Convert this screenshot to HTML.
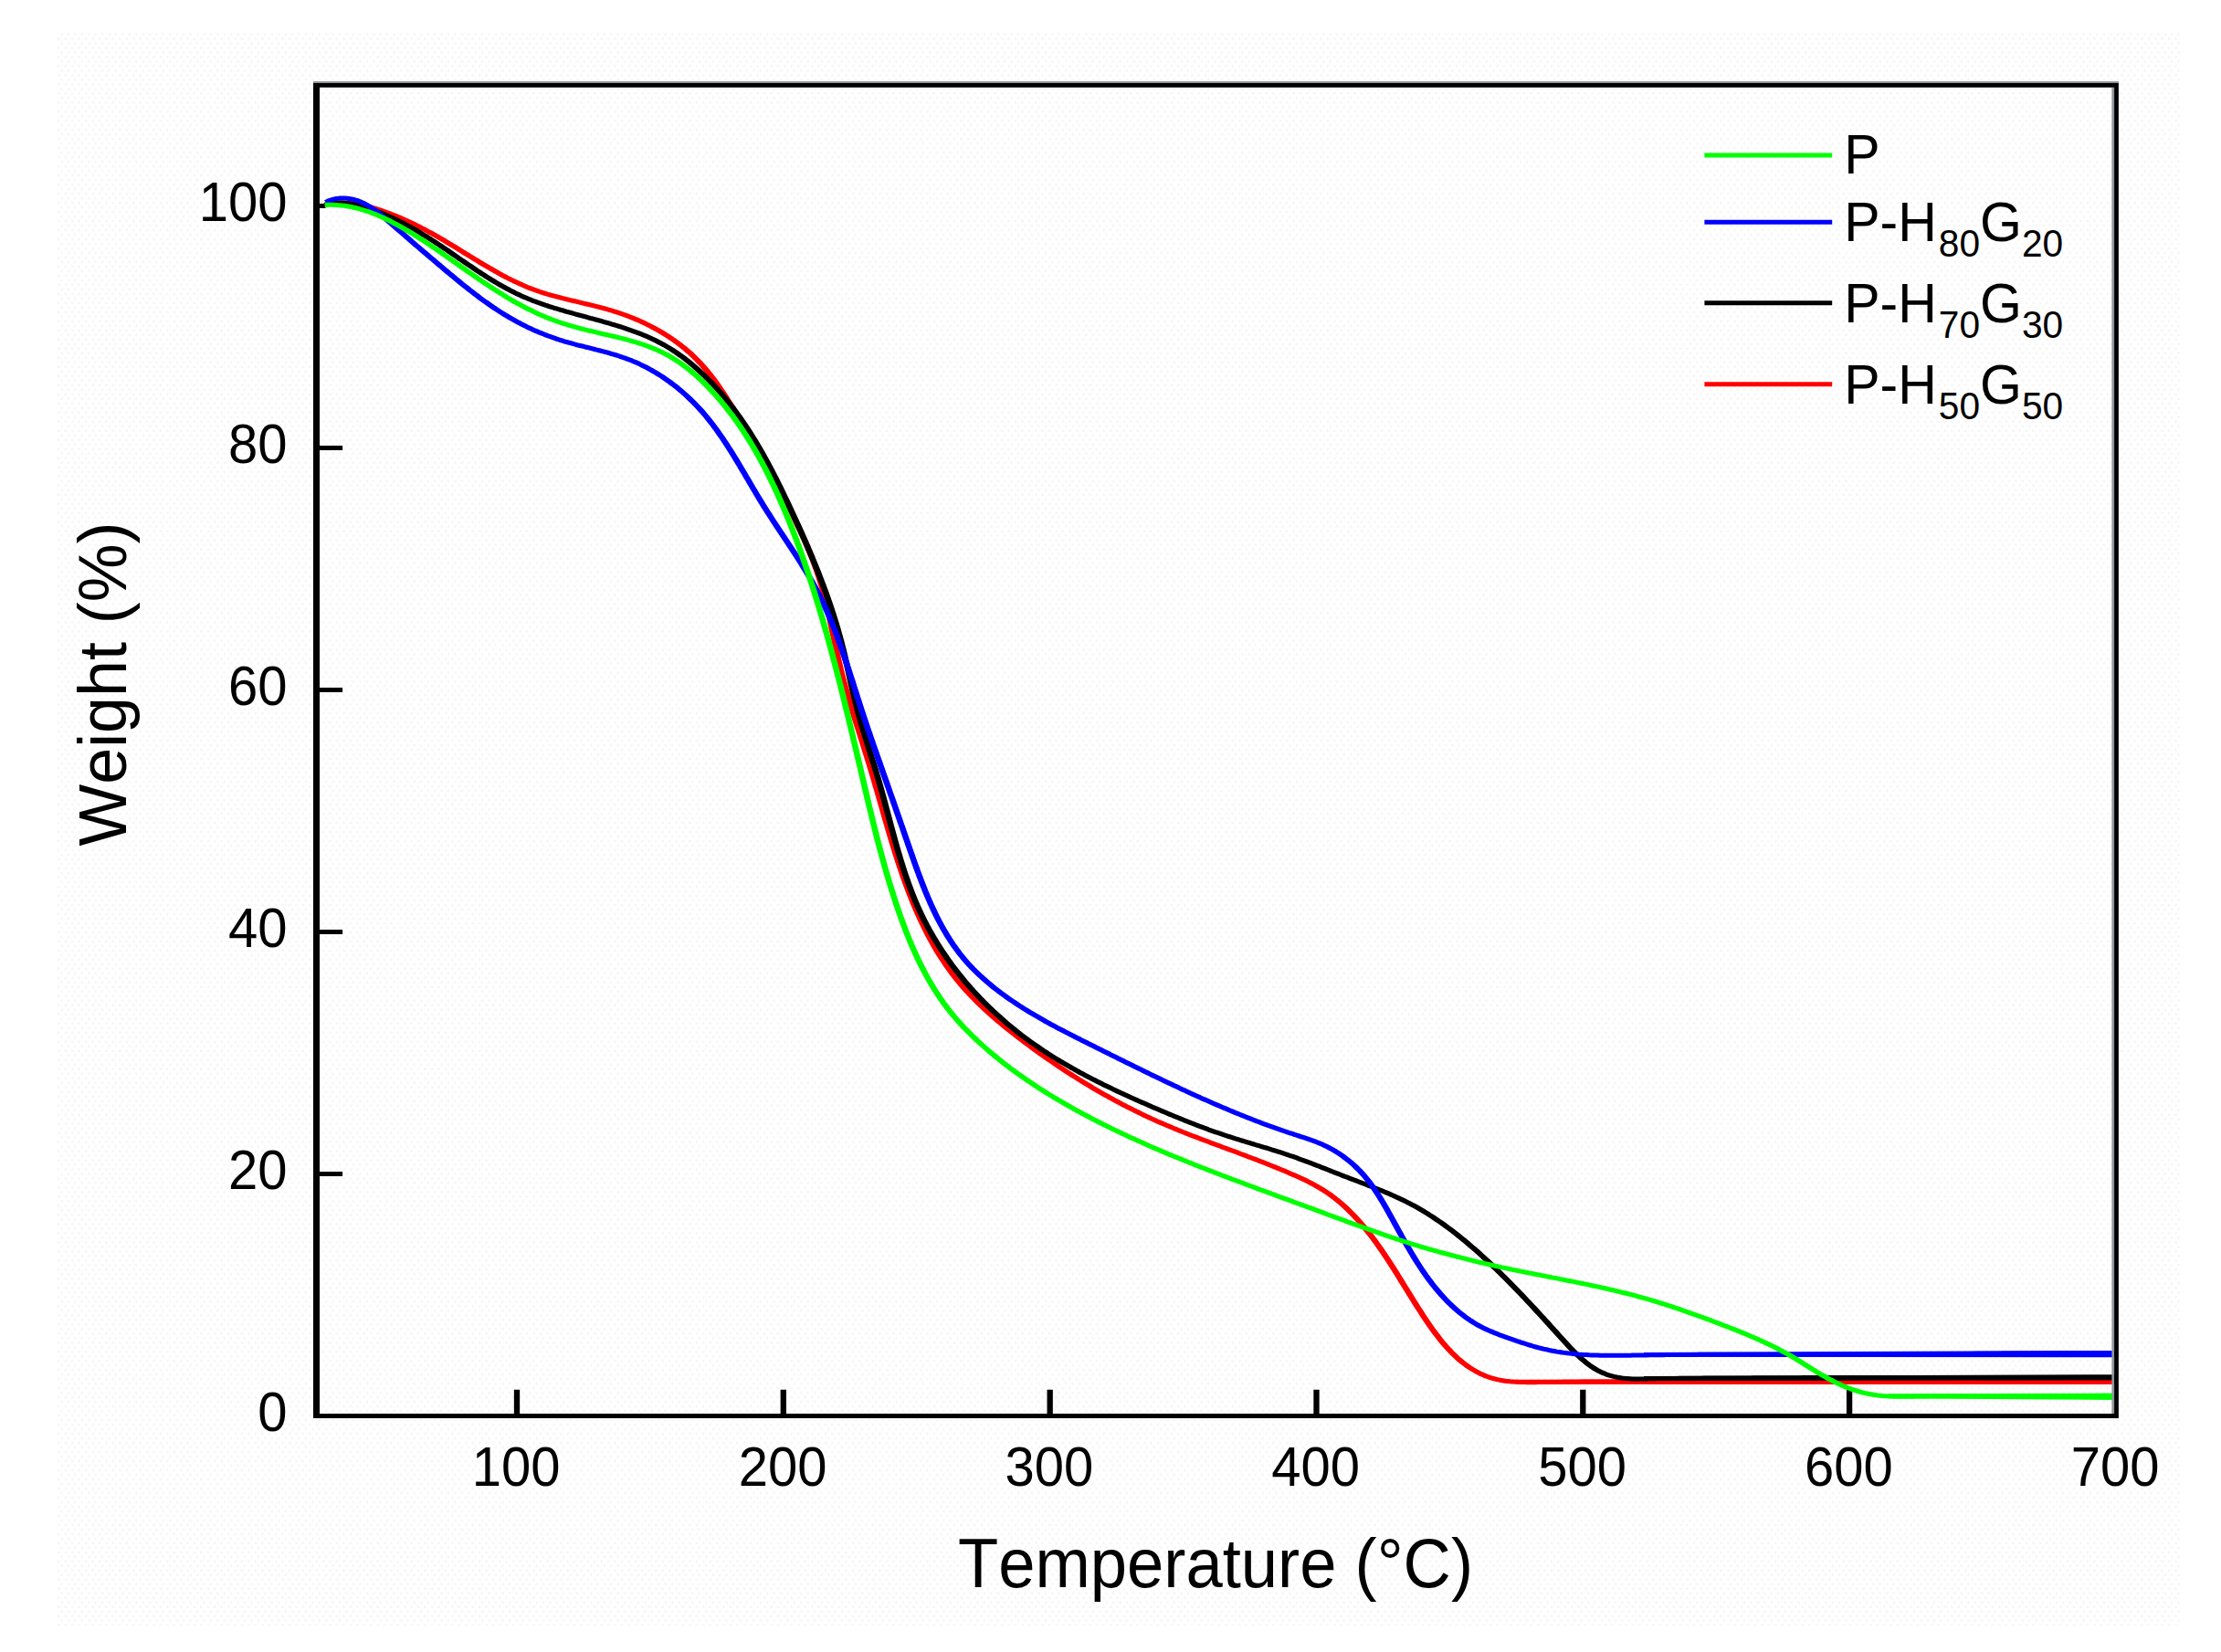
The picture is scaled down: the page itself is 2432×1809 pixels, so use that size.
<!DOCTYPE html>
<html><head><meta charset="utf-8"><title>TGA curves</title>
<style>
html,body{margin:0;padding:0;background:#fff;}
body{width:2432px;height:1809px;overflow:hidden;}
svg{display:block;}
text{font-family:"Liberation Sans",Arial,sans-serif;fill:#000;font-kerning:none;font-feature-settings:"kern" 0,"liga" 0;}
</style></head><body>
<svg width="2432" height="1809" viewBox="0 0 2432 1809">
<rect x="0" y="0" width="2432" height="1809" fill="#ffffff"/>
<defs><pattern id="dots" x="63" y="35.6" width="7.43" height="9.985" patternUnits="userSpaceOnUse"><rect width="7.43" height="9.985" fill="#ffffff"/><rect x="3.3" y="0.4" width="2.4" height="2.8" fill="#f6f6f6"/><rect x="0.1" y="5.5" width="2.6" height="2.5" fill="#f6f6f6"/></pattern></defs>
<rect x="63" y="35.6" width="2324" height="1744.4" fill="url(#dots)"/>

<path d="M566.0,1550.5 V1521.7 M857.8,1550.5 V1521.7 M1149.7,1550.5 V1521.7 M1441.5,1550.5 V1521.7 M1733.3,1550.5 V1521.7 M2025.1,1550.5 V1521.7" fill="none" stroke="#000" stroke-width="6.3"/>
<path d="M346.5,1285.5 H375.1 M346.5,1020.5 H375.1 M346.5,755.5 H375.1 M346.5,490.5 H375.1 M346.5,225.5 H356.5" fill="none" stroke="#000" stroke-width="5"/>
<g transform="scale(1.33,1)">
<path d="M267.36,224.3 L269.64,223.6 L271.92,223.1 L274.19,222.7 L276.46,222.4 L278.72,222.2 L280.98,222.1 L283.23,222.1 L285.47,222.2 L287.71,222.4 L289.94,222.7 L292.16,223.1 L294.37,223.5 L296.58,224.1 L298.78,224.7 L300.97,225.3 L303.15,226.1 L305.33,226.8 L307.49,227.7 L309.65,228.6 L311.79,229.5 L313.93,230.4 L316.06,231.4 L318.17,232.5 L320.28,233.5 L322.38,234.6 L324.47,235.7 L326.55,236.8 L328.61,238.0 L330.68,239.2 L332.73,240.4 L334.77,241.6 L336.81,242.9 L338.84,244.1 L340.86,245.4 L342.87,246.8 L344.88,248.1 L346.88,249.5 L348.88,250.8 L350.86,252.3 L352.85,253.7 L354.82,255.1 L356.79,256.6 L358.76,258.0 L360.72,259.5 L362.68,261.1 L364.63,262.6 L366.58,264.1 L368.53,265.7 L370.48,267.2 L372.42,268.8 L374.36,270.3 L376.30,271.9 L378.23,273.5 L380.17,275.1 L382.11,276.7 L384.04,278.3 L385.98,279.8 L387.91,281.4 L389.85,283.0 L391.79,284.6 L393.73,286.1 L395.68,287.7 L397.62,289.3 L399.57,290.8 L401.52,292.3 L403.48,293.8 L405.44,295.3 L407.40,296.8 L409.38,298.3 L411.35,299.7 L413.33,301.2 L415.32,302.6 L417.31,304.0 L419.31,305.3 L421.32,306.7 L423.34,308.0 L425.36,309.2 L427.39,310.5 L429.43,311.7 L431.48,312.9 L433.54,314.1 L435.61,315.2 L437.70,316.3 L439.79,317.3 L441.89,318.3 L444.00,319.3 L446.12,320.2 L448.26,321.1 L450.40,322.0 L452.55,322.8 L454.70,323.6 L456.87,324.4 L459.04,325.2 L461.22,325.9 L463.40,326.7 L465.58,327.4 L467.78,328.1 L469.97,328.8 L472.17,329.5 L474.36,330.2 L476.56,330.9 L478.77,331.6 L480.97,332.3 L483.17,333.0 L485.37,333.7 L487.57,334.4 L489.77,335.1 L491.96,335.8 L494.15,336.6 L496.34,337.4 L498.52,338.2 L500.70,339.0 L502.87,339.8 L505.04,340.7 L507.20,341.6 L509.35,342.5 L511.49,343.5 L513.63,344.5 L515.75,345.5 L517.87,346.6 L519.97,347.7 L522.07,348.8 L524.15,350.0 L526.23,351.2 L528.29,352.4 L530.33,353.7 L532.37,355.0 L534.39,356.3 L536.40,357.7 L538.39,359.1 L540.36,360.5 L542.32,362.0 L544.27,363.5 L546.19,365.0 L548.10,366.6 L549.99,368.2 L551.87,369.8 L553.72,371.5 L555.55,373.2 L557.37,375.0 L559.16,376.7 L560.93,378.6 L562.68,380.4 L564.41,382.3 L566.12,384.3 L567.80,386.2 L569.46,388.2 L571.09,390.3 L572.70,392.4 L574.29,394.5 L575.85,396.7 L577.38,398.9 L578.89,401.1 L580.37,403.4 L581.82,405.7 L583.25,408.0 L584.66,410.3 L586.04,412.7 L587.40,415.1 L588.74,417.5 L590.05,420.0 L591.36,422.5 L592.64,424.9 L593.92,427.4 L595.18,429.9 L596.43,432.4 L597.67,434.9 L598.91,437.5 L600.14,440.0 L601.37,442.5 L602.61,445.0 L603.84,447.6 L605.07,450.1 L606.30,452.6 L607.53,455.1 L608.75,457.6 L609.98,460.1 L611.20,462.6 L612.42,465.2 L613.63,467.7 L614.84,470.2 L616.04,472.7 L617.24,475.2 L618.43,477.8 L619.62,480.3 L620.80,482.9 L621.97,485.4 L623.13,488.0 L624.28,490.5 L625.42,493.1 L626.56,495.7 L627.68,498.3 L628.79,500.9 L629.89,503.5 L630.98,506.1 L632.06,508.7 L633.13,511.4 L634.19,514.0 L635.24,516.7 L636.29,519.3 L637.32,522.0 L638.35,524.7 L639.37,527.3 L640.39,530.0 L641.40,532.7 L642.40,535.4 L643.40,538.1 L644.39,540.8 L645.38,543.5 L646.37,546.2 L647.35,548.9 L648.33,551.6 L649.31,554.3 L650.29,557.1 L651.26,559.8 L652.24,562.5 L653.21,565.2 L654.18,567.9 L655.15,570.6 L656.11,573.3 L657.07,576.1 L658.02,578.8 L658.97,581.5 L659.91,584.2 L660.84,587.0 L661.77,589.7 L662.68,592.4 L663.58,595.2 L664.48,597.9 L665.36,600.7 L666.23,603.4 L667.09,606.2 L667.93,609.0 L668.76,611.7 L669.58,614.5 L670.38,617.3 L671.16,620.1 L671.92,622.9 L672.67,625.7 L673.39,628.6 L674.10,631.4 L674.79,634.2 L675.46,637.1 L676.10,639.9 L676.73,642.8 L677.34,645.7 L677.94,648.6 L678.52,651.5 L679.08,654.4 L679.63,657.3 L680.17,660.2 L680.70,663.1 L681.22,666.0 L681.72,668.9 L682.22,671.9 L682.71,674.8 L683.19,677.8 L683.67,680.7 L684.14,683.6 L684.60,686.6 L685.07,689.5 L685.53,692.5 L685.99,695.4 L686.45,698.4 L686.91,701.3 L687.37,704.3 L687.83,707.2 L688.30,710.2 L688.77,713.1 L689.25,716.1 L689.73,719.0 L690.22,721.9 L690.72,724.9 L691.23,727.8 L691.74,730.7 L692.27,733.7 L692.81,736.6 L693.36,739.5 L693.93,742.4 L694.51,745.3 L695.10,748.2 L695.71,751.1 L696.32,753.9 L696.95,756.8 L697.59,759.7 L698.23,762.6 L698.88,765.4 L699.54,768.3 L700.20,771.2 L700.87,774.0 L701.54,776.9 L702.21,779.8 L702.89,782.6 L703.56,785.5 L704.24,788.3 L704.92,791.2 L705.60,794.1 L706.28,796.9 L706.96,799.8 L707.64,802.6 L708.32,805.5 L709.00,808.4 L709.68,811.2 L710.36,814.1 L711.03,817.0 L711.71,819.8 L712.38,822.7 L713.06,825.6 L713.73,828.4 L714.39,831.3 L715.06,834.2 L715.72,837.0 L716.38,839.9 L717.04,842.8 L717.69,845.7 L718.34,848.5 L718.98,851.4 L719.62,854.3 L720.26,857.2 L720.89,860.1 L721.52,862.9 L722.15,865.8 L722.78,868.7 L723.40,871.6 L724.02,874.5 L724.64,877.3 L725.26,880.2 L725.88,883.1 L726.50,886.0 L727.12,888.9 L727.74,891.8 L728.36,894.6 L728.98,897.5 L729.61,900.4 L730.23,903.3 L730.86,906.1 L731.49,909.0 L732.13,911.9 L732.77,914.8 L733.41,917.6 L734.05,920.5 L734.70,923.4 L735.36,926.2 L736.02,929.1 L736.68,932.0 L737.36,934.8 L738.04,937.7 L738.72,940.5 L739.41,943.4 L740.11,946.2 L740.82,949.1 L741.54,951.9 L742.26,954.7 L742.99,957.6 L743.73,960.4 L744.49,963.2 L745.25,966.0 L746.02,968.8 L746.80,971.7 L747.60,974.5 L748.40,977.3 L749.22,980.1 L750.05,982.9 L750.89,985.6 L751.74,988.4 L752.61,991.2 L753.49,994.0 L754.38,996.7 L755.29,999.5 L756.22,1002.3 L757.15,1005.0 L758.11,1007.7 L759.08,1010.5 L760.06,1013.2 L761.06,1015.9 L762.07,1018.6 L763.10,1021.3 L764.15,1024.0 L765.21,1026.6 L766.29,1029.3 L767.38,1031.9 L768.50,1034.6 L769.63,1037.2 L770.77,1039.8 L771.94,1042.4 L773.12,1044.9 L774.32,1047.5 L775.54,1050.0 L776.78,1052.5 L778.03,1055.0 L779.31,1057.5 L780.60,1059.9 L781.91,1062.4 L783.25,1064.8 L784.60,1067.2 L785.97,1069.5 L787.36,1071.9 L788.77,1074.2 L790.20,1076.5 L791.65,1078.8 L793.12,1081.0 L794.60,1083.3 L796.10,1085.5 L797.62,1087.7 L799.15,1089.8 L800.70,1092.0 L802.27,1094.1 L803.84,1096.3 L805.44,1098.4 L807.05,1100.4 L808.67,1102.5 L810.30,1104.6 L811.95,1106.6 L813.61,1108.6 L815.29,1110.6 L816.97,1112.6 L818.66,1114.6 L820.37,1116.6 L822.09,1118.5 L823.81,1120.4 L825.55,1122.4 L827.29,1124.3 L829.04,1126.2 L830.81,1128.0 L832.57,1129.9 L834.35,1131.8 L836.13,1133.6 L837.92,1135.5 L839.72,1137.3 L841.52,1139.1 L843.32,1140.9 L845.14,1142.8 L846.95,1144.5 L848.77,1146.3 L850.60,1148.1 L852.42,1149.9 L854.26,1151.7 L856.10,1153.4 L857.94,1155.2 L859.78,1156.9 L861.64,1158.6 L863.49,1160.3 L865.35,1162.0 L867.22,1163.7 L869.09,1165.4 L870.96,1167.1 L872.84,1168.8 L874.72,1170.5 L876.61,1172.1 L878.50,1173.8 L880.39,1175.4 L882.29,1177.0 L884.20,1178.6 L886.11,1180.2 L888.02,1181.8 L889.94,1183.4 L891.86,1185.0 L893.79,1186.5 L895.72,1188.1 L897.66,1189.6 L899.60,1191.2 L901.54,1192.7 L903.49,1194.2 L905.44,1195.7 L907.40,1197.2 L909.36,1198.7 L911.33,1200.1 L913.30,1201.6 L915.28,1203.0 L917.26,1204.5 L919.24,1205.9 L921.23,1207.3 L923.22,1208.7 L925.22,1210.1 L927.22,1211.5 L929.23,1212.8 L931.24,1214.2 L933.25,1215.5 L935.27,1216.9 L937.29,1218.2 L939.32,1219.5 L941.35,1220.8 L943.39,1222.1 L945.43,1223.3 L947.47,1224.6 L949.52,1225.8 L951.58,1227.1 L953.64,1228.3 L955.70,1229.5 L957.76,1230.7 L959.83,1231.9 L961.91,1233.0 L963.99,1234.2 L966.07,1235.4 L968.15,1236.5 L970.24,1237.6 L972.33,1238.8 L974.42,1239.9 L976.52,1241.0 L978.62,1242.1 L980.72,1243.2 L982.82,1244.2 L984.93,1245.3 L987.04,1246.4 L989.15,1247.5 L991.26,1248.5 L993.37,1249.6 L995.48,1250.6 L997.60,1251.7 L999.71,1252.8 L1001.83,1253.8 L1003.95,1254.8 L1006.06,1255.9 L1008.18,1256.9 L1010.30,1258.0 L1012.42,1259.0 L1014.54,1260.1 L1016.65,1261.1 L1018.77,1262.1 L1020.89,1263.2 L1023.00,1264.2 L1025.12,1265.3 L1027.23,1266.4 L1029.34,1267.4 L1031.45,1268.5 L1033.56,1269.5 L1035.67,1270.6 L1037.78,1271.7 L1039.88,1272.8 L1041.98,1273.9 L1044.08,1275.0 L1046.18,1276.1 L1048.27,1277.2 L1050.36,1278.3 L1052.45,1279.5 L1054.53,1280.6 L1056.61,1281.7 L1058.69,1282.9 L1060.77,1284.1 L1062.84,1285.3 L1064.90,1286.5 L1066.96,1287.7 L1069.02,1288.9 L1071.06,1290.1 L1073.10,1291.4 L1075.13,1292.7 L1077.14,1294.0 L1079.14,1295.4 L1081.13,1296.8 L1083.10,1298.2 L1085.05,1299.7 L1086.99,1301.2 L1088.91,1302.7 L1090.80,1304.3 L1092.68,1306.0 L1094.53,1307.7 L1096.35,1309.4 L1098.16,1311.2 L1099.94,1313.1 L1101.70,1315.0 L1103.43,1316.9 L1105.15,1318.9 L1106.83,1320.9 L1108.50,1322.9 L1110.14,1325.0 L1111.77,1327.2 L1113.36,1329.3 L1114.94,1331.5 L1116.49,1333.7 L1118.03,1335.9 L1119.54,1338.2 L1121.02,1340.4 L1122.49,1342.7 L1123.94,1345.0 L1125.36,1347.4 L1126.77,1349.7 L1128.15,1352.1 L1129.52,1354.4 L1130.88,1356.8 L1132.21,1359.2 L1133.53,1361.6 L1134.84,1364.1 L1136.13,1366.5 L1137.41,1369.0 L1138.68,1371.4 L1139.93,1373.9 L1141.18,1376.4 L1142.41,1378.9 L1143.64,1381.4 L1144.86,1383.9 L1146.07,1386.4 L1147.27,1388.9 L1148.47,1391.4 L1149.67,1393.9 L1150.85,1396.5 L1152.04,1399.0 L1153.22,1401.6 L1154.41,1404.1 L1155.59,1406.7 L1156.77,1409.2 L1157.95,1411.8 L1159.13,1414.3 L1160.32,1416.9 L1161.51,1419.4 L1162.70,1422.0 L1163.90,1424.5 L1165.10,1427.1 L1166.31,1429.6 L1167.52,1432.2 L1168.75,1434.7 L1169.98,1437.2 L1171.22,1439.8 L1172.47,1442.3 L1173.74,1444.8 L1175.01,1447.3 L1176.30,1449.8 L1177.60,1452.3 L1178.92,1454.8 L1180.25,1457.2 L1181.61,1459.7 L1182.98,1462.1 L1184.37,1464.5 L1185.78,1466.9 L1187.21,1469.3 L1188.67,1471.6 L1190.15,1473.9 L1191.66,1476.1 L1193.20,1478.3 L1194.76,1480.5 L1196.36,1482.7 L1197.99,1484.7 L1199.64,1486.8 L1201.34,1488.8 L1203.07,1490.7 L1204.83,1492.6 L1206.63,1494.4 L1208.46,1496.1 L1210.33,1497.8 L1212.23,1499.4 L1214.15,1500.9 L1216.11,1502.4 L1218.10,1503.8 L1220.11,1505.0 L1222.15,1506.2 L1224.21,1507.3 L1226.30,1508.3 L1228.41,1509.1 L1230.54,1509.9 L1232.69,1510.6 L1234.86,1511.2 L1237.04,1511.7 L1239.24,1512.2 L1241.46,1512.5 L1243.69,1512.9 L1245.93,1513.1 L1248.18,1513.3 L1250.43,1513.5 L1252.70,1513.6 L1254.97,1513.6 L1257.24,1513.7 L1259.52,1513.7 L1261.80,1513.7 L1264.08,1513.7 L1266.35,1513.6 L1268.63,1513.6 L1270.90,1513.6 L1273.17,1513.5 L1275.43,1513.5 L1277.69,1513.5 L1279.95,1513.4 L1282.21,1513.4 L1284.46,1513.4 L1286.72,1513.3 L1288.97,1513.3 L1291.22,1513.3 L1293.48,1513.2 L1295.73,1513.2 L1297.98,1513.2 L1300.23,1513.2 L1302.48,1513.1 L1304.73,1513.1 L1306.99,1513.1 L1309.24,1513.1 L1311.49,1513.1 L1313.74,1513.1 L1316.00,1513.1 L1318.25,1513.1 L1320.51,1513.1 L1322.76,1513.1 L1325.02,1513.1 L1327.27,1513.1 L1329.52,1513.1 L1331.78,1513.1 L1334.03,1513.1 L1336.29,1513.1 L1338.55,1513.1 L1340.80,1513.1 L1343.06,1513.1 L1345.31,1513.1 L1347.57,1513.1 L1349.82,1513.1 L1352.08,1513.1 L1354.34,1513.1 L1356.59,1513.2 L1358.85,1513.2 L1361.10,1513.2 L1363.36,1513.2 L1365.62,1513.2 L1367.87,1513.2 L1370.13,1513.2 L1372.38,1513.2 L1374.64,1513.2 L1376.90,1513.2 L1379.15,1513.2 L1381.41,1513.2 L1383.66,1513.2 L1385.92,1513.2 L1388.18,1513.2 L1390.43,1513.2 L1392.69,1513.2 L1394.94,1513.2 L1397.20,1513.2 L1399.45,1513.2 L1401.71,1513.2 L1403.97,1513.2 L1406.22,1513.2 L1408.48,1513.3 L1410.73,1513.3 L1412.99,1513.3 L1415.25,1513.3 L1417.50,1513.3 L1419.76,1513.3 L1422.01,1513.2 L1424.27,1513.2 L1426.52,1513.2 L1428.78,1513.2 L1431.03,1513.2 L1433.29,1513.2 L1435.55,1513.2 L1437.80,1513.2 L1440.06,1513.2 L1442.31,1513.2 L1444.57,1513.2 L1446.82,1513.2 L1449.08,1513.2 L1451.34,1513.2 L1453.59,1513.2 L1455.85,1513.2 L1458.10,1513.2 L1460.36,1513.2 L1462.61,1513.2 L1464.87,1513.2 L1467.12,1513.2 L1469.38,1513.2 L1471.64,1513.2 L1473.89,1513.2 L1476.15,1513.2 L1478.40,1513.2 L1480.66,1513.2 L1482.91,1513.2 L1485.17,1513.2 L1487.42,1513.2 L1489.68,1513.2 L1491.94,1513.2 L1494.19,1513.2 L1496.45,1513.2 L1498.70,1513.2 L1500.96,1513.2 L1503.21,1513.2 L1505.47,1513.2 L1507.73,1513.2 L1509.98,1513.2 L1512.24,1513.2 L1514.49,1513.2 L1516.75,1513.2 L1519.00,1513.2 L1521.26,1513.2 L1523.51,1513.2 L1525.77,1513.2 L1528.03,1513.2 L1530.28,1513.2 L1532.54,1513.2 L1534.79,1513.2 L1537.05,1513.2 L1539.30,1513.2 L1541.56,1513.2 L1543.82,1513.2 L1546.07,1513.2 L1548.33,1513.2 L1550.58,1513.2 L1552.84,1513.2 L1555.09,1513.2 L1557.35,1513.2 L1559.60,1513.2 L1561.86,1513.2 L1564.12,1513.2 L1566.37,1513.2 L1568.63,1513.2 L1570.88,1513.2 L1573.14,1513.2 L1575.39,1513.2 L1577.65,1513.2 L1579.91,1513.2 L1582.16,1513.2 L1584.42,1513.2 L1586.67,1513.2 L1588.93,1513.2 L1591.18,1513.2 L1593.44,1513.2 L1595.70,1513.2 L1597.95,1513.2 L1600.21,1513.2 L1602.46,1513.2 L1604.72,1513.2 L1606.97,1513.2 L1609.23,1513.2 L1611.48,1513.2 L1613.74,1513.2 L1616.00,1513.2 L1618.25,1513.2 L1620.51,1513.2 L1622.76,1513.2 L1625.02,1513.2 L1627.27,1513.2 L1629.53,1513.2 L1631.79,1513.2 L1634.04,1513.2 L1636.30,1513.2 L1638.55,1513.2 L1640.81,1513.2 L1643.06,1513.2 L1645.32,1513.2 L1647.58,1513.2 L1649.83,1513.2 L1652.09,1513.2 L1654.34,1513.2 L1656.60,1513.2 L1658.85,1513.2 L1661.11,1513.2 L1663.36,1513.2 L1665.62,1513.2 L1667.88,1513.2 L1670.13,1513.2 L1672.39,1513.2 L1674.64,1513.2 L1676.90,1513.2 L1679.15,1513.2 L1681.41,1513.2 L1683.67,1513.2 L1685.92,1513.2 L1688.18,1513.2 L1690.43,1513.2 L1692.69,1513.2 L1694.94,1513.2 L1697.20,1513.2 L1699.45,1513.2 L1701.71,1513.2 L1703.97,1513.2 L1706.22,1513.2 L1708.48,1513.2 L1710.73,1513.2 L1712.99,1513.2 L1715.24,1513.2 L1717.50,1513.2 L1719.76,1513.2 L1722.01,1513.2 L1724.27,1513.2 L1726.52,1513.2 L1728.78,1513.2 L1731.03,1513.2 L1733.29,1513.2 L1735.54,1513.2 L1737.80,1513.2 L1740.06,1513.2 L1741.35,1513.2" fill="none" stroke="#ff0000" stroke-width="5" stroke-linejoin="round" stroke-linecap="butt"/>
<path d="M1248.12,1510.7 L1742.48,1509.2 V1515.7 L1248.12,1515.7 Z" fill="#ff0000"/>
<path d="M267.38,224.3 L269.67,223.5 L271.94,223.0 L274.21,222.5 L276.47,222.3 L278.72,222.1 L280.96,222.1 L283.20,222.3 L285.42,222.5 L287.64,222.9 L289.85,223.3 L292.05,223.9 L294.24,224.5 L296.42,225.3 L298.59,226.1 L300.75,226.9 L302.90,227.8 L305.03,228.8 L307.16,229.8 L309.28,230.9 L311.38,231.9 L313.47,233.0 L315.55,234.2 L317.62,235.4 L319.68,236.6 L321.73,237.8 L323.77,239.0 L325.80,240.3 L327.82,241.7 L329.83,243.0 L331.83,244.4 L333.82,245.8 L335.81,247.2 L337.78,248.6 L339.75,250.1 L341.70,251.6 L343.65,253.1 L345.59,254.6 L347.53,256.2 L349.45,257.8 L351.37,259.3 L353.28,260.9 L355.19,262.6 L357.09,264.2 L358.99,265.8 L360.88,267.5 L362.76,269.2 L364.65,270.9 L366.52,272.5 L368.40,274.2 L370.28,275.9 L372.15,277.6 L374.02,279.3 L375.89,281.0 L377.76,282.8 L379.63,284.5 L381.50,286.2 L383.37,287.9 L385.24,289.6 L387.12,291.2 L388.99,292.9 L390.87,294.6 L392.76,296.3 L394.65,297.9 L396.54,299.6 L398.43,301.2 L400.34,302.8 L402.24,304.4 L404.16,306.0 L406.08,307.5 L408.01,309.1 L409.94,310.6 L411.89,312.1 L413.84,313.5 L415.80,315.0 L417.77,316.4 L419.76,317.8 L421.75,319.1 L423.75,320.5 L425.77,321.8 L427.79,323.0 L429.83,324.3 L431.88,325.5 L433.95,326.6 L436.03,327.8 L438.11,328.9 L440.21,329.9 L442.32,331.0 L444.44,332.0 L446.57,333.0 L448.70,334.0 L450.84,334.9 L453.00,335.9 L455.15,336.8 L457.32,337.7 L459.49,338.5 L461.67,339.4 L463.85,340.2 L466.03,341.1 L468.22,341.9 L470.41,342.7 L472.61,343.5 L474.80,344.3 L477.00,345.1 L479.20,345.9 L481.40,346.7 L483.60,347.5 L485.80,348.3 L487.99,349.0 L490.19,349.8 L492.38,350.6 L494.57,351.4 L496.76,352.3 L498.95,353.1 L501.13,353.9 L503.30,354.8 L505.47,355.6 L507.63,356.5 L509.79,357.4 L511.94,358.3 L514.08,359.2 L516.21,360.2 L518.34,361.2 L520.45,362.2 L522.56,363.2 L524.66,364.2 L526.74,365.3 L528.81,366.4 L530.88,367.5 L532.92,368.7 L534.96,369.9 L536.98,371.1 L538.99,372.4 L540.98,373.7 L542.96,375.1 L544.93,376.5 L546.87,377.9 L548.80,379.4 L550.72,380.9 L552.61,382.4 L554.49,384.0 L556.35,385.7 L558.20,387.4 L560.03,389.1 L561.84,390.8 L563.64,392.6 L565.42,394.4 L567.18,396.3 L568.93,398.2 L570.66,400.1 L572.37,402.1 L574.07,404.1 L575.75,406.1 L577.41,408.1 L579.06,410.2 L580.69,412.3 L582.30,414.4 L583.90,416.6 L585.48,418.7 L587.04,420.9 L588.59,423.1 L590.12,425.4 L591.63,427.6 L593.13,429.9 L594.61,432.2 L596.07,434.5 L597.52,436.9 L598.95,439.2 L600.36,441.6 L601.76,444.0 L603.14,446.3 L604.50,448.7 L605.85,451.2 L607.18,453.6 L608.50,456.0 L609.80,458.5 L611.09,461.0 L612.36,463.4 L613.62,465.9 L614.86,468.4 L616.09,470.9 L617.31,473.4 L618.52,476.0 L619.71,478.5 L620.89,481.1 L622.06,483.6 L623.21,486.2 L624.36,488.8 L625.49,491.3 L626.62,493.9 L627.73,496.5 L628.83,499.2 L629.92,501.8 L631.01,504.4 L632.08,507.0 L633.14,509.7 L634.20,512.3 L635.25,515.0 L636.29,517.6 L637.32,520.3 L638.34,523.0 L639.36,525.6 L640.37,528.3 L641.37,531.0 L642.37,533.7 L643.36,536.4 L644.35,539.1 L645.33,541.8 L646.30,544.5 L647.27,547.2 L648.24,549.9 L649.20,552.6 L650.16,555.3 L651.12,558.1 L652.07,560.8 L653.02,563.5 L653.96,566.2 L654.90,568.9 L655.84,571.7 L656.78,574.4 L657.71,577.1 L658.63,579.9 L659.55,582.6 L660.47,585.4 L661.39,588.1 L662.29,590.8 L663.20,593.6 L664.10,596.3 L664.99,599.1 L665.88,601.9 L666.76,604.6 L667.63,607.4 L668.50,610.1 L669.37,612.9 L670.23,615.7 L671.08,618.5 L671.92,621.2 L672.76,624.0 L673.59,626.8 L674.41,629.6 L675.23,632.4 L676.04,635.2 L676.84,638.0 L677.63,640.8 L678.42,643.6 L679.20,646.4 L679.97,649.2 L680.73,652.0 L681.48,654.9 L682.22,657.7 L682.96,660.5 L683.68,663.4 L684.40,666.2 L685.10,669.0 L685.80,671.9 L686.49,674.7 L687.16,677.6 L687.83,680.5 L688.49,683.3 L689.13,686.2 L689.77,689.1 L690.39,692.0 L691.00,694.9 L691.61,697.8 L692.20,700.7 L692.78,703.6 L693.34,706.5 L693.90,709.4 L694.45,712.3 L694.98,715.2 L695.51,718.2 L696.03,721.1 L696.54,724.0 L697.05,727.0 L697.56,729.9 L698.06,732.9 L698.56,735.8 L699.05,738.7 L699.55,741.7 L700.04,744.6 L700.54,747.6 L701.04,750.5 L701.54,753.4 L702.05,756.4 L702.56,759.3 L703.08,762.2 L703.61,765.1 L704.14,768.1 L704.69,771.0 L705.24,773.9 L705.80,776.8 L706.38,779.7 L706.97,782.5 L707.57,785.4 L708.18,788.3 L708.80,791.2 L709.43,794.0 L710.06,796.9 L710.71,799.7 L711.36,802.6 L712.01,805.4 L712.67,808.3 L713.34,811.1 L714.01,814.0 L714.68,816.8 L715.35,819.7 L716.02,822.5 L716.70,825.3 L717.37,828.2 L718.04,831.0 L718.71,833.9 L719.38,836.7 L720.04,839.6 L720.70,842.4 L721.35,845.3 L722.00,848.2 L722.64,851.0 L723.27,853.9 L723.90,856.8 L724.52,859.7 L725.13,862.6 L725.74,865.5 L726.35,868.4 L726.95,871.3 L727.54,874.2 L728.13,877.1 L728.72,880.0 L729.31,882.9 L729.90,885.9 L730.48,888.8 L731.07,891.7 L731.65,894.6 L732.24,897.5 L732.83,900.5 L733.41,903.4 L734.00,906.3 L734.60,909.2 L735.19,912.1 L735.79,915.0 L736.40,918.0 L737.01,920.9 L737.62,923.8 L738.24,926.7 L738.86,929.6 L739.50,932.5 L740.14,935.4 L740.79,938.3 L741.44,941.2 L742.11,944.0 L742.78,946.9 L743.47,949.8 L744.16,952.6 L744.87,955.5 L745.58,958.3 L746.31,961.2 L747.05,964.0 L747.81,966.8 L748.58,969.7 L749.36,972.5 L750.16,975.3 L750.97,978.1 L751.80,980.8 L752.64,983.6 L753.51,986.4 L754.38,989.1 L755.28,991.9 L756.20,994.6 L757.13,997.3 L758.08,1000.0 L759.05,1002.7 L760.04,1005.4 L761.05,1008.1 L762.08,1010.7 L763.12,1013.4 L764.19,1016.0 L765.27,1018.6 L766.37,1021.2 L767.48,1023.8 L768.62,1026.4 L769.77,1028.9 L770.94,1031.5 L772.12,1034.0 L773.32,1036.6 L774.54,1039.1 L775.78,1041.6 L777.03,1044.0 L778.30,1046.5 L779.58,1049.0 L780.88,1051.4 L782.20,1053.8 L783.53,1056.3 L784.87,1058.7 L786.24,1061.1 L787.61,1063.4 L789.00,1065.8 L790.41,1068.1 L791.83,1070.4 L793.27,1072.8 L794.71,1075.1 L796.18,1077.3 L797.66,1079.6 L799.15,1081.9 L800.65,1084.1 L802.17,1086.3 L803.70,1088.5 L805.25,1090.7 L806.81,1092.9 L808.38,1095.0 L809.96,1097.2 L811.56,1099.3 L813.17,1101.4 L814.79,1103.5 L816.42,1105.6 L818.07,1107.7 L819.72,1109.7 L821.39,1111.7 L823.07,1113.7 L824.76,1115.7 L826.46,1117.7 L828.18,1119.7 L829.90,1121.6 L831.64,1123.5 L833.38,1125.4 L835.14,1127.3 L836.90,1129.2 L838.68,1131.1 L840.46,1132.9 L842.26,1134.7 L844.06,1136.5 L845.88,1138.3 L847.70,1140.1 L849.53,1141.8 L851.38,1143.5 L853.23,1145.2 L855.09,1146.9 L856.95,1148.6 L858.83,1150.3 L860.71,1151.9 L862.60,1153.6 L864.50,1155.2 L866.41,1156.8 L868.32,1158.4 L870.25,1159.9 L872.18,1161.5 L874.11,1163.0 L876.05,1164.6 L878.00,1166.1 L879.96,1167.6 L881.92,1169.1 L883.89,1170.5 L885.86,1172.0 L887.84,1173.4 L889.82,1174.9 L891.81,1176.3 L893.81,1177.7 L895.81,1179.1 L897.81,1180.5 L899.82,1181.9 L901.84,1183.2 L903.86,1184.6 L905.88,1185.9 L907.91,1187.3 L909.94,1188.6 L911.97,1189.9 L914.01,1191.2 L916.05,1192.5 L918.10,1193.8 L920.15,1195.1 L922.20,1196.4 L924.25,1197.6 L926.31,1198.9 L928.37,1200.1 L930.43,1201.4 L932.49,1202.6 L934.56,1203.8 L936.62,1205.1 L938.69,1206.3 L940.76,1207.5 L942.83,1208.7 L944.90,1209.9 L946.97,1211.1 L949.05,1212.3 L951.12,1213.5 L953.20,1214.6 L955.27,1215.8 L957.34,1217.0 L959.42,1218.1 L961.50,1219.3 L963.57,1220.5 L965.65,1221.6 L967.73,1222.8 L969.81,1223.9 L971.89,1225.0 L973.97,1226.1 L976.06,1227.3 L978.15,1228.4 L980.24,1229.5 L982.33,1230.5 L984.42,1231.6 L986.52,1232.7 L988.62,1233.7 L990.72,1234.8 L992.83,1235.8 L994.94,1236.9 L997.05,1237.9 L999.17,1238.9 L1001.29,1239.9 L1003.42,1240.8 L1005.55,1241.8 L1007.68,1242.8 L1009.82,1243.7 L1011.97,1244.6 L1014.12,1245.5 L1016.27,1246.5 L1018.42,1247.3 L1020.58,1248.2 L1022.74,1249.1 L1024.90,1250.0 L1027.06,1250.9 L1029.22,1251.7 L1031.39,1252.6 L1033.55,1253.5 L1035.72,1254.3 L1037.88,1255.2 L1040.05,1256.1 L1042.21,1256.9 L1044.37,1257.8 L1046.53,1258.7 L1048.69,1259.6 L1050.84,1260.5 L1052.99,1261.4 L1055.14,1262.3 L1057.28,1263.3 L1059.42,1264.2 L1061.56,1265.2 L1063.69,1266.1 L1065.81,1267.1 L1067.93,1268.1 L1070.05,1269.2 L1072.16,1270.2 L1074.27,1271.2 L1076.37,1272.3 L1078.47,1273.3 L1080.57,1274.4 L1082.67,1275.5 L1084.77,1276.6 L1086.86,1277.6 L1088.96,1278.7 L1091.05,1279.8 L1093.15,1280.9 L1095.24,1282.0 L1097.33,1283.1 L1099.43,1284.2 L1101.53,1285.3 L1103.63,1286.4 L1105.73,1287.5 L1107.83,1288.6 L1109.94,1289.6 L1112.04,1290.7 L1114.15,1291.8 L1116.26,1292.8 L1118.37,1293.9 L1120.48,1295.0 L1122.59,1296.0 L1124.70,1297.1 L1126.81,1298.2 L1128.92,1299.3 L1131.02,1300.4 L1133.12,1301.5 L1135.21,1302.6 L1137.30,1303.7 L1139.39,1304.9 L1141.47,1306.0 L1143.54,1307.2 L1145.61,1308.4 L1147.67,1309.6 L1149.72,1310.8 L1151.77,1312.1 L1153.80,1313.4 L1155.83,1314.7 L1157.85,1316.0 L1159.86,1317.3 L1161.85,1318.7 L1163.84,1320.1 L1165.81,1321.6 L1167.77,1323.1 L1169.73,1324.6 L1171.67,1326.1 L1173.60,1327.6 L1175.51,1329.2 L1177.42,1330.8 L1179.32,1332.4 L1181.21,1334.1 L1183.08,1335.8 L1184.95,1337.5 L1186.80,1339.2 L1188.65,1340.9 L1190.48,1342.7 L1192.31,1344.5 L1194.12,1346.3 L1195.93,1348.1 L1197.73,1349.9 L1199.51,1351.8 L1201.29,1353.7 L1203.05,1355.6 L1204.81,1357.5 L1206.56,1359.4 L1208.30,1361.3 L1210.03,1363.3 L1211.75,1365.3 L1213.46,1367.2 L1215.16,1369.2 L1216.86,1371.2 L1218.54,1373.2 L1220.22,1375.3 L1221.89,1377.3 L1223.55,1379.3 L1225.20,1381.4 L1226.84,1383.4 L1228.48,1385.5 L1230.10,1387.6 L1231.72,1389.6 L1233.33,1391.7 L1234.94,1393.8 L1236.54,1395.9 L1238.13,1398.0 L1239.71,1400.1 L1241.29,1402.2 L1242.86,1404.3 L1244.43,1406.4 L1245.99,1408.5 L1247.55,1410.7 L1249.10,1412.8 L1250.65,1414.9 L1252.19,1417.1 L1253.74,1419.2 L1255.27,1421.4 L1256.81,1423.6 L1258.34,1425.7 L1259.88,1427.9 L1261.41,1430.1 L1262.94,1432.3 L1264.46,1434.5 L1265.99,1436.7 L1267.52,1438.9 L1269.04,1441.1 L1270.57,1443.3 L1272.10,1445.6 L1273.63,1447.8 L1275.15,1450.0 L1276.69,1452.3 L1278.22,1454.5 L1279.75,1456.8 L1281.29,1459.0 L1282.83,1461.3 L1284.38,1463.6 L1285.92,1465.9 L1287.48,1468.2 L1289.04,1470.4 L1290.61,1472.7 L1292.19,1475.0 L1293.78,1477.2 L1295.39,1479.4 L1297.01,1481.5 L1298.65,1483.7 L1300.31,1485.7 L1302.00,1487.8 L1303.71,1489.7 L1305.44,1491.6 L1307.20,1493.5 L1308.99,1495.2 L1310.81,1496.9 L1312.66,1498.5 L1314.55,1500.0 L1316.48,1501.4 L1318.43,1502.7 L1320.42,1503.8 L1322.44,1504.9 L1324.50,1505.9 L1326.58,1506.7 L1328.70,1507.4 L1330.84,1508.0 L1333.01,1508.5 L1335.20,1509.0 L1337.42,1509.3 L1339.65,1509.5 L1341.90,1509.7 L1344.16,1509.9 L1346.43,1509.9 L1348.71,1510.0 L1351.00,1510.0 L1353.29,1509.9 L1355.58,1509.9 L1357.88,1509.8 L1360.17,1509.7 L1362.45,1509.7 L1364.73,1509.6 L1367.00,1509.6 L1369.27,1509.5 L1371.54,1509.5 L1373.80,1509.5 L1376.06,1509.4 L1378.32,1509.4 L1380.57,1509.4 L1382.83,1509.3 L1385.08,1509.3 L1387.33,1509.3 L1389.58,1509.3 L1391.83,1509.2 L1394.08,1509.2 L1396.33,1509.2 L1398.58,1509.2 L1400.83,1509.2 L1403.09,1509.1 L1405.34,1509.1 L1407.59,1509.1 L1409.84,1509.1 L1412.10,1509.1 L1414.35,1509.0 L1416.60,1509.0 L1418.85,1509.0 L1421.11,1509.0 L1423.36,1509.0 L1425.62,1509.0 L1427.87,1508.9 L1430.12,1508.9 L1432.38,1508.9 L1434.63,1508.9 L1436.89,1508.9 L1439.14,1508.9 L1441.40,1508.9 L1443.65,1508.8 L1445.91,1508.8 L1448.16,1508.8 L1450.42,1508.8 L1452.67,1508.8 L1454.93,1508.8 L1457.19,1508.8 L1459.44,1508.8 L1461.70,1508.7 L1463.95,1508.7 L1466.21,1508.7 L1468.47,1508.7 L1470.72,1508.7 L1472.98,1508.7 L1475.23,1508.7 L1477.49,1508.7 L1479.75,1508.7 L1482.00,1508.7 L1484.26,1508.6 L1486.52,1508.6 L1488.77,1508.6 L1491.03,1508.6 L1493.29,1508.6 L1495.54,1508.6 L1497.80,1508.6 L1500.06,1508.6 L1502.31,1508.6 L1504.57,1508.6 L1506.82,1508.6 L1509.08,1508.6 L1511.34,1508.6 L1513.59,1508.6 L1515.85,1508.6 L1518.11,1508.6 L1520.36,1508.6 L1522.62,1508.6 L1524.87,1508.6 L1527.13,1508.6 L1529.39,1508.6 L1531.64,1508.6 L1533.90,1508.6 L1536.15,1508.6 L1538.41,1508.6 L1540.66,1508.6 L1542.92,1508.5 L1545.18,1508.5 L1547.43,1508.5 L1549.69,1508.5 L1551.94,1508.6 L1554.20,1508.6 L1556.45,1508.6 L1558.71,1508.6 L1560.97,1508.6 L1563.22,1508.6 L1565.48,1508.6 L1567.73,1508.6 L1569.99,1508.6 L1572.24,1508.6 L1574.50,1508.6 L1576.75,1508.6 L1579.01,1508.6 L1581.27,1508.6 L1583.52,1508.6 L1585.78,1508.6 L1588.03,1508.6 L1590.29,1508.6 L1592.54,1508.6 L1594.80,1508.6 L1597.05,1508.6 L1599.31,1508.6 L1601.56,1508.6 L1603.82,1508.6 L1606.07,1508.6 L1608.33,1508.6 L1610.59,1508.6 L1612.84,1508.6 L1615.10,1508.6 L1617.35,1508.6 L1619.61,1508.6 L1621.86,1508.6 L1624.12,1508.6 L1626.37,1508.6 L1628.63,1508.6 L1630.88,1508.7 L1633.14,1508.7 L1635.39,1508.7 L1637.65,1508.7 L1639.90,1508.7 L1642.16,1508.7 L1644.42,1508.7 L1646.67,1508.7 L1648.93,1508.7 L1651.18,1508.7 L1653.44,1508.7 L1655.69,1508.7 L1657.95,1508.7 L1660.20,1508.7 L1662.46,1508.7 L1664.71,1508.7 L1666.97,1508.7 L1669.23,1508.7 L1671.48,1508.7 L1673.74,1508.7 L1675.99,1508.7 L1678.25,1508.7 L1680.50,1508.7 L1682.76,1508.7 L1685.01,1508.7 L1687.27,1508.7 L1689.53,1508.8 L1691.78,1508.8 L1694.04,1508.8 L1696.29,1508.8 L1698.55,1508.8 L1700.81,1508.8 L1703.06,1508.8 L1705.32,1508.8 L1707.57,1508.8 L1709.83,1508.8 L1712.09,1508.8 L1714.34,1508.8 L1716.60,1508.8 L1718.85,1508.8 L1721.11,1508.8 L1723.37,1508.8 L1725.62,1508.8 L1727.88,1508.8 L1730.14,1508.8 L1732.39,1508.8 L1734.65,1508.8 L1736.90,1508.8 L1739.16,1508.8 L1741.36,1508.8" fill="none" stroke="#000000" stroke-width="5" stroke-linejoin="round" stroke-linecap="butt"/>
<path d="M1353.38,1507 L1742.48,1505.2 V1511.2 L1353.38,1512 Z" fill="#000000"/>
<path d="M268.24,221.5 L270.40,220.1 L272.59,219.0 L274.81,218.1 L277.06,217.5 L279.31,217.1 L281.56,217.0 L283.81,217.0 L286.04,217.2 L288.25,217.7 L290.42,218.2 L292.56,219.0 L294.64,219.9 L296.69,221.0 L298.69,222.1 L300.66,223.4 L302.59,224.9 L304.49,226.4 L306.36,228.0 L308.20,229.7 L310.02,231.4 L311.82,233.3 L313.59,235.2 L315.35,237.1 L317.10,239.1 L318.83,241.1 L320.56,243.1 L322.28,245.1 L324.00,247.1 L325.71,249.1 L327.42,251.1 L329.13,253.0 L330.84,255.0 L332.55,257.0 L334.25,259.0 L335.95,260.9 L337.66,262.9 L339.36,264.9 L341.06,266.8 L342.76,268.8 L344.46,270.7 L346.16,272.6 L347.86,274.6 L349.56,276.5 L351.26,278.4 L352.97,280.4 L354.67,282.3 L356.38,284.2 L358.09,286.2 L359.80,288.1 L361.51,290.0 L363.23,291.9 L364.94,293.8 L366.67,295.8 L368.39,297.7 L370.12,299.6 L371.85,301.5 L373.59,303.4 L375.33,305.4 L377.07,307.3 L378.83,309.2 L380.58,311.1 L382.34,313.0 L384.11,314.8 L385.89,316.7 L387.67,318.6 L389.46,320.4 L391.25,322.3 L393.06,324.1 L394.87,325.9 L396.69,327.7 L398.52,329.5 L400.36,331.2 L402.21,332.9 L404.06,334.7 L405.93,336.4 L407.81,338.0 L409.70,339.7 L411.60,341.3 L413.51,342.9 L415.43,344.5 L417.36,346.0 L419.30,347.6 L421.25,349.0 L423.22,350.5 L425.19,352.0 L427.17,353.4 L429.17,354.8 L431.17,356.1 L433.19,357.5 L435.21,358.8 L437.25,360.0 L439.29,361.3 L441.34,362.5 L443.41,363.7 L445.48,364.8 L447.57,365.9 L449.66,367.0 L451.76,368.1 L453.87,369.1 L455.99,370.1 L458.12,371.1 L460.26,372.0 L462.41,372.9 L464.57,373.8 L466.73,374.6 L468.90,375.4 L471.08,376.2 L473.26,377.0 L475.45,377.8 L477.64,378.5 L479.83,379.2 L482.02,380.0 L484.22,380.7 L486.41,381.4 L488.61,382.1 L490.80,382.9 L492.99,383.6 L495.18,384.4 L497.36,385.1 L499.54,385.9 L501.72,386.7 L503.88,387.6 L506.05,388.4 L508.20,389.3 L510.34,390.2 L512.48,391.2 L514.60,392.1 L516.72,393.2 L518.82,394.2 L520.91,395.4 L522.98,396.5 L525.05,397.7 L527.09,399.0 L529.13,400.3 L531.15,401.6 L533.15,403.0 L535.14,404.5 L537.11,405.9 L539.07,407.4 L541.01,409.0 L542.93,410.6 L544.84,412.2 L546.73,413.9 L548.60,415.6 L550.45,417.3 L552.28,419.1 L554.09,420.9 L555.89,422.8 L557.66,424.6 L559.41,426.6 L561.14,428.5 L562.85,430.5 L564.54,432.5 L566.21,434.5 L567.85,436.6 L569.47,438.7 L571.07,440.8 L572.65,442.9 L574.20,445.1 L575.73,447.3 L577.23,449.5 L578.71,451.7 L580.17,454.0 L581.60,456.3 L583.02,458.6 L584.42,460.9 L585.79,463.3 L587.15,465.6 L588.49,468.0 L589.82,470.4 L591.13,472.8 L592.42,475.3 L593.70,477.7 L594.96,480.2 L596.21,482.6 L597.45,485.1 L598.68,487.6 L599.90,490.2 L601.10,492.7 L602.30,495.2 L603.49,497.8 L604.67,500.3 L605.85,502.9 L607.02,505.4 L608.18,508.0 L609.34,510.6 L610.49,513.2 L611.64,515.8 L612.79,518.3 L613.94,520.9 L615.08,523.5 L616.23,526.1 L617.37,528.7 L618.52,531.3 L619.67,533.9 L620.82,536.5 L621.98,539.1 L623.14,541.7 L624.31,544.3 L625.48,546.9 L626.65,549.4 L627.84,552.0 L629.03,554.6 L630.23,557.1 L631.44,559.7 L632.66,562.2 L633.88,564.7 L635.11,567.3 L636.35,569.8 L637.59,572.3 L638.83,574.8 L640.07,577.3 L641.32,579.8 L642.57,582.3 L643.82,584.9 L645.07,587.4 L646.32,589.9 L647.57,592.4 L648.81,594.9 L650.06,597.4 L651.30,599.9 L652.53,602.4 L653.77,604.9 L654.99,607.4 L656.21,609.9 L657.43,612.5 L658.63,615.0 L659.83,617.5 L661.02,620.1 L662.20,622.6 L663.37,625.1 L664.52,627.7 L665.67,630.3 L666.80,632.8 L667.93,635.4 L669.03,638.0 L670.12,640.6 L671.20,643.2 L672.26,645.9 L673.31,648.5 L674.34,651.1 L675.35,653.8 L676.34,656.5 L677.31,659.1 L678.27,661.8 L679.22,664.5 L680.14,667.3 L681.06,670.0 L681.96,672.7 L682.84,675.5 L683.71,678.2 L684.57,681.0 L685.41,683.8 L686.25,686.5 L687.07,689.3 L687.88,692.1 L688.68,694.9 L689.47,697.7 L690.25,700.6 L691.02,703.4 L691.78,706.2 L692.53,709.0 L693.28,711.9 L694.02,714.7 L694.75,717.6 L695.47,720.4 L696.19,723.3 L696.91,726.1 L697.62,729.0 L698.32,731.9 L699.02,734.7 L699.72,737.6 L700.42,740.5 L701.11,743.4 L701.80,746.2 L702.49,749.1 L703.18,752.0 L703.86,754.8 L704.55,757.7 L705.24,760.6 L705.93,763.5 L706.62,766.3 L707.31,769.2 L708.01,772.1 L708.70,774.9 L709.40,777.8 L710.11,780.7 L710.82,783.5 L711.53,786.4 L712.24,789.2 L712.96,792.1 L713.68,794.9 L714.41,797.8 L715.14,800.6 L715.86,803.4 L716.60,806.3 L717.33,809.1 L718.07,811.9 L718.80,814.8 L719.54,817.6 L720.28,820.4 L721.03,823.2 L721.77,826.1 L722.51,828.9 L723.26,831.7 L724.00,834.5 L724.75,837.3 L725.49,840.1 L726.24,843.0 L726.99,845.8 L727.73,848.6 L728.48,851.4 L729.22,854.2 L729.96,857.0 L730.71,859.8 L731.45,862.6 L732.19,865.5 L732.93,868.3 L733.67,871.1 L734.42,873.9 L735.16,876.7 L735.90,879.5 L736.64,882.3 L737.38,885.2 L738.12,888.0 L738.86,890.8 L739.60,893.6 L740.34,896.4 L741.08,899.3 L741.82,902.1 L742.56,904.9 L743.30,907.7 L744.04,910.6 L744.78,913.4 L745.52,916.3 L746.26,919.1 L747.00,921.9 L747.74,924.8 L748.49,927.6 L749.23,930.5 L749.98,933.3 L750.73,936.2 L751.48,939.1 L752.24,941.9 L753.00,944.8 L753.76,947.6 L754.53,950.5 L755.31,953.3 L756.10,956.2 L756.89,959.0 L757.69,961.8 L758.50,964.7 L759.32,967.5 L760.15,970.3 L760.99,973.1 L761.84,975.9 L762.70,978.7 L763.57,981.5 L764.46,984.2 L765.36,987.0 L766.27,989.7 L767.20,992.5 L768.15,995.2 L769.11,997.9 L770.09,1000.6 L771.08,1003.3 L772.10,1006.0 L773.13,1008.6 L774.18,1011.2 L775.25,1013.9 L776.34,1016.5 L777.45,1019.0 L778.58,1021.6 L779.73,1024.1 L780.91,1026.7 L782.11,1029.1 L783.33,1031.6 L784.58,1034.1 L785.85,1036.5 L787.15,1038.9 L788.48,1041.3 L789.83,1043.7 L791.21,1046.0 L792.62,1048.3 L794.05,1050.6 L795.52,1052.8 L797.01,1055.1 L798.53,1057.3 L800.07,1059.4 L801.64,1061.6 L803.24,1063.7 L804.85,1065.8 L806.50,1067.9 L808.16,1069.9 L809.84,1071.9 L811.55,1073.9 L813.27,1075.9 L815.01,1077.8 L816.77,1079.8 L818.55,1081.7 L820.34,1083.5 L822.15,1085.4 L823.97,1087.2 L825.81,1089.0 L827.66,1090.8 L829.52,1092.6 L831.40,1094.3 L833.28,1096.0 L835.17,1097.7 L837.07,1099.4 L838.98,1101.1 L840.90,1102.7 L842.82,1104.3 L844.75,1105.9 L846.68,1107.5 L848.62,1109.1 L850.56,1110.6 L852.51,1112.1 L854.46,1113.6 L856.41,1115.1 L858.37,1116.6 L860.33,1118.1 L862.29,1119.5 L864.26,1120.9 L866.23,1122.4 L868.21,1123.8 L870.19,1125.2 L872.17,1126.6 L874.15,1127.9 L876.14,1129.3 L878.13,1130.7 L880.12,1132.0 L882.11,1133.4 L884.11,1134.7 L886.10,1136.1 L888.10,1137.4 L890.11,1138.8 L892.11,1140.1 L894.11,1141.4 L896.12,1142.8 L898.13,1144.1 L900.13,1145.4 L902.14,1146.8 L904.15,1148.1 L906.17,1149.4 L908.18,1150.8 L910.19,1152.1 L912.21,1153.4 L914.22,1154.8 L916.24,1156.1 L918.26,1157.4 L920.28,1158.8 L922.30,1160.1 L924.32,1161.4 L926.35,1162.8 L928.37,1164.1 L930.40,1165.4 L932.42,1166.7 L934.45,1168.1 L936.48,1169.4 L938.51,1170.7 L940.54,1172.0 L942.57,1173.4 L944.61,1174.7 L946.64,1176.0 L948.68,1177.3 L950.71,1178.6 L952.75,1179.9 L954.79,1181.2 L956.83,1182.5 L958.87,1183.8 L960.92,1185.1 L962.96,1186.4 L965.01,1187.7 L967.05,1189.0 L969.10,1190.2 L971.15,1191.5 L973.20,1192.8 L975.25,1194.0 L977.30,1195.3 L979.36,1196.6 L981.41,1197.8 L983.47,1199.1 L985.52,1200.3 L987.58,1201.5 L989.64,1202.8 L991.70,1204.0 L993.77,1205.2 L995.83,1206.4 L997.89,1207.6 L999.96,1208.8 L1002.03,1210.0 L1004.10,1211.2 L1006.16,1212.4 L1008.24,1213.5 L1010.31,1214.7 L1012.38,1215.9 L1014.46,1217.0 L1016.53,1218.2 L1018.61,1219.3 L1020.69,1220.4 L1022.77,1221.5 L1024.86,1222.6 L1026.95,1223.7 L1029.04,1224.8 L1031.13,1225.9 L1033.23,1227.0 L1035.33,1228.1 L1037.43,1229.1 L1039.54,1230.2 L1041.65,1231.2 L1043.76,1232.3 L1045.88,1233.3 L1048.00,1234.3 L1050.12,1235.3 L1052.25,1236.3 L1054.39,1237.3 L1056.53,1238.3 L1058.67,1239.2 L1060.82,1240.2 L1062.98,1241.1 L1065.13,1242.1 L1067.30,1243.0 L1069.46,1243.9 L1071.62,1244.9 L1073.78,1245.8 L1075.93,1246.8 L1078.07,1247.8 L1080.20,1248.8 L1082.33,1249.8 L1084.43,1250.9 L1086.52,1252.0 L1088.60,1253.2 L1090.65,1254.5 L1092.68,1255.7 L1094.69,1257.1 L1096.67,1258.5 L1098.62,1260.0 L1100.55,1261.6 L1102.44,1263.2 L1104.31,1264.8 L1106.15,1266.6 L1107.96,1268.4 L1109.73,1270.2 L1111.47,1272.1 L1113.18,1274.0 L1114.86,1276.0 L1116.49,1278.1 L1118.10,1280.2 L1119.66,1282.3 L1121.19,1284.5 L1122.68,1286.7 L1124.13,1289.0 L1125.55,1291.3 L1126.94,1293.6 L1128.29,1296.0 L1129.62,1298.4 L1130.92,1300.8 L1132.19,1303.3 L1133.44,1305.8 L1134.67,1308.3 L1135.87,1310.8 L1137.06,1313.4 L1138.23,1316.0 L1139.38,1318.6 L1140.52,1321.2 L1141.65,1323.8 L1142.77,1326.4 L1143.88,1329.1 L1144.98,1331.7 L1146.08,1334.4 L1147.18,1337.0 L1148.27,1339.7 L1149.36,1342.3 L1150.46,1345.0 L1151.55,1347.6 L1152.65,1350.3 L1153.75,1352.9 L1154.86,1355.6 L1155.97,1358.2 L1157.09,1360.8 L1158.21,1363.4 L1159.35,1366.0 L1160.49,1368.6 L1161.64,1371.2 L1162.80,1373.8 L1163.97,1376.4 L1165.15,1378.9 L1166.34,1381.5 L1167.55,1384.0 L1168.77,1386.5 L1170.01,1389.0 L1171.26,1391.5 L1172.53,1393.9 L1173.82,1396.4 L1175.13,1398.8 L1176.45,1401.2 L1177.80,1403.6 L1179.16,1406.0 L1180.55,1408.3 L1181.96,1410.6 L1183.39,1412.9 L1184.85,1415.2 L1186.33,1417.5 L1187.84,1419.7 L1189.38,1421.9 L1190.94,1424.1 L1192.53,1426.2 L1194.15,1428.3 L1195.79,1430.4 L1197.46,1432.4 L1199.16,1434.4 L1200.88,1436.4 L1202.63,1438.3 L1204.41,1440.1 L1206.21,1441.9 L1208.04,1443.7 L1209.89,1445.4 L1211.77,1447.0 L1213.68,1448.6 L1215.61,1450.2 L1217.56,1451.6 L1219.54,1453.0 L1221.55,1454.3 L1223.57,1455.6 L1225.62,1456.9 L1227.68,1458.0 L1229.76,1459.2 L1231.85,1460.3 L1233.96,1461.4 L1236.07,1462.4 L1238.20,1463.5 L1240.33,1464.5 L1242.47,1465.5 L1244.62,1466.5 L1246.77,1467.5 L1248.92,1468.5 L1251.07,1469.4 L1253.23,1470.4 L1255.40,1471.3 L1257.56,1472.2 L1259.73,1473.1 L1261.91,1474.0 L1264.09,1474.8 L1266.27,1475.6 L1268.46,1476.3 L1270.65,1477.1 L1272.84,1477.7 L1275.04,1478.4 L1277.24,1479.0 L1279.44,1479.5 L1281.65,1480.1 L1283.86,1480.5 L1286.08,1481.0 L1288.30,1481.4 L1290.52,1481.8 L1292.74,1482.1 L1294.97,1482.4 L1297.20,1482.7 L1299.43,1483.0 L1301.67,1483.2 L1303.90,1483.4 L1306.14,1483.6 L1308.39,1483.8 L1310.63,1483.9 L1312.87,1484.0 L1315.12,1484.1 L1317.37,1484.2 L1319.62,1484.3 L1321.87,1484.3 L1324.13,1484.3 L1326.38,1484.3 L1328.64,1484.3 L1330.89,1484.3 L1333.15,1484.3 L1335.41,1484.3 L1337.67,1484.3 L1339.93,1484.2 L1342.19,1484.2 L1344.45,1484.1 L1346.71,1484.1 L1348.97,1484.0 L1351.23,1484.0 L1353.49,1483.9 L1355.75,1483.9 L1358.01,1483.8 L1360.27,1483.8 L1362.53,1483.8 L1364.78,1483.7 L1367.04,1483.7 L1369.30,1483.7 L1371.56,1483.6 L1373.82,1483.6 L1376.08,1483.6 L1378.33,1483.5 L1380.59,1483.5 L1382.85,1483.5 L1385.11,1483.5 L1387.36,1483.4 L1389.62,1483.4 L1391.88,1483.4 L1394.13,1483.4 L1396.39,1483.4 L1398.65,1483.3 L1400.90,1483.3 L1403.16,1483.3 L1405.42,1483.3 L1407.67,1483.3 L1409.93,1483.3 L1412.18,1483.3 L1414.44,1483.3 L1416.69,1483.3 L1418.95,1483.3 L1421.20,1483.3 L1423.46,1483.3 L1425.71,1483.3 L1427.97,1483.3 L1430.22,1483.3 L1432.48,1483.3 L1434.73,1483.3 L1436.99,1483.3 L1439.24,1483.3 L1441.50,1483.3 L1443.75,1483.3 L1446.01,1483.3 L1448.26,1483.3 L1450.52,1483.3 L1452.77,1483.3 L1455.03,1483.3 L1457.28,1483.3 L1459.53,1483.3 L1461.79,1483.3 L1464.04,1483.3 L1466.30,1483.3 L1468.55,1483.3 L1470.81,1483.3 L1473.06,1483.3 L1475.32,1483.3 L1477.57,1483.3 L1479.83,1483.3 L1482.08,1483.3 L1484.34,1483.3 L1486.59,1483.3 L1488.85,1483.3 L1491.10,1483.2 L1493.35,1483.2 L1495.61,1483.2 L1497.87,1483.2 L1500.12,1483.2 L1502.38,1483.2 L1504.63,1483.2 L1506.89,1483.2 L1509.14,1483.2 L1511.40,1483.2 L1513.65,1483.2 L1515.91,1483.2 L1518.16,1483.2 L1520.42,1483.1 L1522.67,1483.1 L1524.93,1483.1 L1527.18,1483.1 L1529.44,1483.1 L1531.70,1483.1 L1533.95,1483.1 L1536.21,1483.1 L1538.46,1483.0 L1540.72,1483.0 L1542.97,1483.0 L1545.23,1483.0 L1547.49,1483.0 L1549.74,1483.0 L1552.00,1483.0 L1554.25,1482.9 L1556.51,1482.9 L1558.77,1482.9 L1561.02,1482.9 L1563.28,1482.9 L1565.53,1482.9 L1567.79,1482.8 L1570.05,1482.8 L1572.30,1482.8 L1574.56,1482.8 L1576.81,1482.8 L1579.07,1482.8 L1581.33,1482.7 L1583.58,1482.7 L1585.84,1482.7 L1588.09,1482.7 L1590.35,1482.7 L1592.61,1482.6 L1594.86,1482.6 L1597.12,1482.6 L1599.37,1482.6 L1601.63,1482.6 L1603.89,1482.5 L1606.14,1482.5 L1608.40,1482.5 L1610.65,1482.5 L1612.91,1482.5 L1615.17,1482.4 L1617.42,1482.4 L1619.68,1482.4 L1621.93,1482.4 L1624.19,1482.4 L1626.45,1482.3 L1628.70,1482.3 L1630.96,1482.3 L1633.21,1482.3 L1635.47,1482.3 L1637.73,1482.2 L1639.98,1482.2 L1642.24,1482.2 L1644.49,1482.2 L1646.75,1482.2 L1649.01,1482.1 L1651.26,1482.1 L1653.52,1482.1 L1655.77,1482.1 L1658.03,1482.1 L1660.28,1482.1 L1662.54,1482.0 L1664.80,1482.0 L1667.05,1482.0 L1669.31,1482.0 L1671.56,1482.0 L1673.82,1482.0 L1676.07,1481.9 L1678.33,1481.9 L1680.58,1481.9 L1682.84,1481.9 L1685.10,1481.9 L1687.35,1481.9 L1689.61,1481.8 L1691.86,1481.8 L1694.12,1481.8 L1696.37,1481.8 L1698.63,1481.8 L1700.88,1481.8 L1703.14,1481.8 L1705.39,1481.7 L1707.65,1481.7 L1709.90,1481.7 L1712.16,1481.7 L1714.41,1481.7 L1716.67,1481.7 L1718.92,1481.7 L1721.18,1481.7 L1723.43,1481.7 L1725.69,1481.7 L1727.94,1481.6 L1730.19,1481.6 L1732.45,1481.6 L1734.70,1481.6 L1736.96,1481.6 L1739.21,1481.6 L1741.34,1481.6" fill="none" stroke="#0000ff" stroke-width="5" stroke-linejoin="round" stroke-linecap="butt"/>
<path d="M1353.38,1481.0 L1742.48,1478.9 V1486.2 L1353.38,1485.8 Z" fill="#0000ff"/>
<path d="M267.36,224.4 L269.67,224.3 L271.98,224.3 L274.27,224.3 L276.54,224.5 L278.81,224.7 L281.06,225.0 L283.29,225.3 L285.52,225.8 L287.73,226.3 L289.92,226.8 L292.11,227.5 L294.28,228.2 L296.44,229.0 L298.59,229.8 L300.72,230.7 L302.85,231.6 L304.96,232.6 L307.06,233.7 L309.15,234.8 L311.23,235.9 L313.29,237.1 L315.35,238.3 L317.39,239.6 L319.43,240.9 L321.45,242.3 L323.46,243.7 L325.46,245.1 L327.45,246.5 L329.44,248.0 L331.41,249.5 L333.37,251.0 L335.32,252.5 L337.26,254.1 L339.20,255.6 L341.12,257.2 L343.04,258.8 L344.94,260.4 L346.84,262.1 L348.74,263.7 L350.62,265.3 L352.50,267.0 L354.38,268.7 L356.24,270.3 L358.11,272.0 L359.97,273.7 L361.82,275.4 L363.67,277.1 L365.52,278.8 L367.37,280.5 L369.21,282.3 L371.05,284.0 L372.89,285.7 L374.73,287.4 L376.57,289.2 L378.41,290.9 L380.25,292.6 L382.09,294.3 L383.93,296.1 L385.77,297.8 L387.62,299.5 L389.47,301.2 L391.32,302.9 L393.17,304.6 L395.03,306.3 L396.90,308.0 L398.77,309.7 L400.64,311.3 L402.52,313.0 L404.41,314.7 L406.30,316.3 L408.20,317.9 L410.11,319.5 L412.02,321.1 L413.95,322.7 L415.88,324.3 L417.82,325.9 L419.76,327.4 L421.72,328.9 L423.68,330.4 L425.66,331.9 L427.64,333.3 L429.62,334.8 L431.62,336.2 L433.62,337.6 L435.64,338.9 L437.66,340.2 L439.69,341.5 L441.73,342.8 L443.77,344.1 L445.83,345.3 L447.89,346.4 L449.96,347.6 L452.04,348.7 L454.13,349.8 L456.22,350.8 L458.33,351.8 L460.44,352.8 L462.56,353.7 L464.69,354.6 L466.83,355.5 L468.98,356.4 L471.13,357.2 L473.30,358.0 L475.47,358.8 L477.65,359.6 L479.84,360.4 L482.03,361.1 L484.23,361.8 L486.44,362.5 L488.65,363.2 L490.87,363.9 L493.09,364.6 L495.31,365.3 L497.53,366.0 L499.76,366.7 L501.98,367.4 L504.20,368.0 L506.41,368.7 L508.63,369.5 L510.84,370.2 L513.04,370.9 L515.24,371.7 L517.43,372.5 L519.61,373.3 L521.79,374.1 L523.95,375.0 L526.10,375.9 L528.24,376.8 L530.37,377.8 L532.49,378.8 L534.59,379.8 L536.67,380.9 L538.74,382.0 L540.79,383.2 L542.82,384.4 L544.83,385.6 L546.83,387.0 L548.80,388.3 L550.75,389.8 L552.68,391.3 L554.59,392.8 L556.48,394.4 L558.35,396.0 L560.20,397.7 L562.03,399.4 L563.84,401.2 L565.63,403.0 L567.40,404.9 L569.15,406.8 L570.88,408.7 L572.59,410.7 L574.28,412.7 L575.95,414.7 L577.61,416.8 L579.24,418.9 L580.86,421.0 L582.46,423.1 L584.04,425.3 L585.60,427.5 L587.15,429.7 L588.67,431.9 L590.18,434.1 L591.67,436.4 L593.14,438.7 L594.60,441.0 L596.04,443.3 L597.46,445.6 L598.86,448.0 L600.25,450.4 L601.63,452.7 L602.98,455.1 L604.32,457.5 L605.65,460.0 L606.96,462.4 L608.25,464.9 L609.53,467.3 L610.80,469.8 L612.05,472.3 L613.28,474.8 L614.51,477.4 L615.71,479.9 L616.91,482.4 L618.09,485.0 L619.25,487.6 L620.41,490.1 L621.55,492.7 L622.67,495.3 L623.79,498.0 L624.89,500.6 L625.98,503.2 L627.06,505.8 L628.12,508.5 L629.18,511.2 L630.22,513.8 L631.25,516.5 L632.27,519.2 L633.28,521.9 L634.28,524.6 L635.27,527.3 L636.25,530.0 L637.22,532.7 L638.18,535.4 L639.12,538.2 L640.06,540.9 L640.99,543.6 L641.91,546.4 L642.83,549.1 L643.73,551.9 L644.62,554.6 L645.51,557.4 L646.39,560.1 L647.26,562.9 L648.12,565.7 L648.97,568.4 L649.82,571.2 L650.65,574.0 L651.48,576.8 L652.31,579.6 L653.12,582.4 L653.93,585.2 L654.73,588.0 L655.52,590.8 L656.31,593.6 L657.09,596.4 L657.87,599.2 L658.63,602.0 L659.39,604.8 L660.15,607.6 L660.90,610.4 L661.64,613.3 L662.38,616.1 L663.11,618.9 L663.83,621.8 L664.55,624.6 L665.27,627.4 L665.98,630.3 L666.68,633.1 L667.38,636.0 L668.08,638.8 L668.77,641.7 L669.45,644.5 L670.13,647.4 L670.81,650.2 L671.48,653.1 L672.14,656.0 L672.81,658.8 L673.46,661.7 L674.12,664.5 L674.77,667.4 L675.41,670.3 L676.05,673.2 L676.69,676.0 L677.32,678.9 L677.95,681.8 L678.58,684.7 L679.20,687.6 L679.82,690.4 L680.43,693.3 L681.04,696.2 L681.65,699.1 L682.25,702.0 L682.85,704.9 L683.45,707.8 L684.04,710.7 L684.63,713.6 L685.22,716.5 L685.80,719.4 L686.38,722.3 L686.96,725.2 L687.53,728.1 L688.11,731.0 L688.67,733.9 L689.24,736.8 L689.81,739.7 L690.37,742.6 L690.93,745.5 L691.48,748.4 L692.04,751.3 L692.59,754.3 L693.14,757.2 L693.69,760.1 L694.23,763.0 L694.78,765.9 L695.32,768.8 L695.86,771.7 L696.40,774.7 L696.93,777.6 L697.47,780.5 L698.00,783.4 L698.53,786.3 L699.06,789.3 L699.59,792.2 L700.11,795.1 L700.64,798.0 L701.16,800.9 L701.69,803.9 L702.21,806.8 L702.73,809.7 L703.25,812.6 L703.77,815.6 L704.29,818.5 L704.81,821.4 L705.32,824.3 L705.84,827.2 L706.35,830.2 L706.87,833.1 L707.38,836.0 L707.90,838.9 L708.41,841.9 L708.93,844.8 L709.44,847.7 L709.95,850.6 L710.47,853.5 L710.98,856.5 L711.49,859.4 L712.01,862.3 L712.52,865.2 L713.04,868.1 L713.55,871.0 L714.07,874.0 L714.59,876.9 L715.11,879.8 L715.63,882.7 L716.16,885.6 L716.69,888.5 L717.21,891.4 L717.75,894.4 L718.28,897.3 L718.82,900.2 L719.35,903.1 L719.90,906.0 L720.44,908.9 L720.99,911.8 L721.55,914.7 L722.10,917.6 L722.66,920.5 L723.23,923.4 L723.80,926.3 L724.37,929.2 L724.95,932.1 L725.53,935.0 L726.12,937.9 L726.72,940.7 L727.32,943.6 L727.92,946.5 L728.53,949.4 L729.15,952.3 L729.77,955.2 L730.40,958.0 L731.04,960.9 L731.68,963.8 L732.33,966.7 L732.99,969.5 L733.65,972.4 L734.32,975.3 L735.00,978.1 L735.69,981.0 L736.38,983.9 L737.08,986.7 L737.79,989.6 L738.51,992.4 L739.24,995.3 L739.98,998.1 L740.72,1001.0 L741.48,1003.8 L742.24,1006.6 L743.02,1009.5 L743.80,1012.3 L744.60,1015.1 L745.41,1018.0 L746.23,1020.8 L747.06,1023.6 L747.90,1026.4 L748.76,1029.2 L749.63,1031.9 L750.51,1034.7 L751.40,1037.5 L752.31,1040.2 L753.23,1043.0 L754.17,1045.7 L755.12,1048.4 L756.09,1051.2 L757.08,1053.9 L758.07,1056.5 L759.09,1059.2 L760.12,1061.9 L761.17,1064.5 L762.23,1067.2 L763.32,1069.8 L764.42,1072.4 L765.54,1075.0 L766.68,1077.6 L767.83,1080.1 L769.01,1082.7 L770.20,1085.2 L771.42,1087.7 L772.65,1090.2 L773.91,1092.7 L775.19,1095.1 L776.48,1097.6 L777.80,1100.0 L779.14,1102.4 L780.51,1104.7 L781.89,1107.1 L783.30,1109.4 L784.73,1111.7 L786.18,1114.0 L787.65,1116.3 L789.14,1118.5 L790.64,1120.8 L792.17,1123.0 L793.71,1125.2 L795.27,1127.3 L796.85,1129.5 L798.44,1131.6 L800.05,1133.7 L801.67,1135.8 L803.31,1137.9 L804.96,1140.0 L806.63,1142.0 L808.30,1144.0 L809.99,1146.0 L811.69,1148.0 L813.40,1150.0 L815.12,1152.0 L816.85,1153.9 L818.59,1155.8 L820.33,1157.7 L822.09,1159.6 L823.86,1161.5 L825.63,1163.4 L827.41,1165.2 L829.20,1167.0 L831.00,1168.9 L832.81,1170.7 L834.62,1172.4 L836.44,1174.2 L838.27,1176.0 L840.11,1177.7 L841.95,1179.4 L843.80,1181.2 L845.66,1182.9 L847.53,1184.5 L849.40,1186.2 L851.28,1187.9 L853.16,1189.5 L855.05,1191.2 L856.95,1192.8 L858.86,1194.4 L860.77,1196.0 L862.68,1197.6 L864.60,1199.1 L866.53,1200.7 L868.46,1202.3 L870.40,1203.8 L872.34,1205.3 L874.29,1206.8 L876.24,1208.3 L878.20,1209.8 L880.16,1211.3 L882.13,1212.8 L884.10,1214.2 L886.07,1215.7 L888.05,1217.1 L890.04,1218.6 L892.02,1220.0 L894.01,1221.4 L896.01,1222.8 L898.00,1224.2 L900.00,1225.6 L902.01,1226.9 L904.01,1228.3 L906.02,1229.6 L908.04,1231.0 L910.05,1232.3 L912.07,1233.7 L914.10,1235.0 L916.12,1236.3 L918.15,1237.6 L920.18,1238.9 L922.21,1240.2 L924.25,1241.5 L926.29,1242.7 L928.33,1244.0 L930.37,1245.3 L932.42,1246.5 L934.47,1247.7 L936.52,1249.0 L938.57,1250.2 L940.63,1251.4 L942.69,1252.7 L944.75,1253.9 L946.81,1255.1 L948.88,1256.3 L950.94,1257.5 L953.01,1258.6 L955.08,1259.8 L957.16,1261.0 L959.23,1262.2 L961.31,1263.3 L963.39,1264.5 L965.47,1265.6 L967.55,1266.8 L969.64,1267.9 L971.73,1269.0 L973.81,1270.2 L975.90,1271.3 L978.00,1272.4 L980.09,1273.5 L982.18,1274.6 L984.28,1275.8 L986.38,1276.9 L988.47,1278.0 L990.57,1279.1 L992.68,1280.1 L994.78,1281.2 L996.88,1282.3 L998.99,1283.4 L1001.09,1284.5 L1003.20,1285.5 L1005.31,1286.6 L1007.42,1287.7 L1009.53,1288.8 L1011.64,1289.8 L1013.75,1290.9 L1015.86,1291.9 L1017.98,1293.0 L1020.09,1294.0 L1022.21,1295.1 L1024.32,1296.1 L1026.44,1297.2 L1028.55,1298.2 L1030.67,1299.3 L1032.79,1300.3 L1034.91,1301.4 L1037.03,1302.4 L1039.14,1303.4 L1041.26,1304.5 L1043.38,1305.5 L1045.50,1306.5 L1047.62,1307.6 L1049.74,1308.6 L1051.86,1309.7 L1053.98,1310.7 L1056.10,1311.7 L1058.22,1312.8 L1060.34,1313.8 L1062.46,1314.8 L1064.58,1315.9 L1066.70,1316.9 L1068.82,1317.9 L1070.94,1319.0 L1073.05,1320.0 L1075.17,1321.0 L1077.29,1322.1 L1079.41,1323.1 L1081.52,1324.1 L1083.64,1325.2 L1085.75,1326.2 L1087.87,1327.3 L1089.98,1328.3 L1092.10,1329.4 L1094.21,1330.4 L1096.33,1331.4 L1098.44,1332.5 L1100.56,1333.5 L1102.67,1334.6 L1104.79,1335.6 L1106.90,1336.6 L1109.02,1337.7 L1111.14,1338.7 L1113.25,1339.7 L1115.37,1340.8 L1117.49,1341.8 L1119.61,1342.8 L1121.73,1343.8 L1123.85,1344.8 L1125.97,1345.8 L1128.09,1346.8 L1130.22,1347.8 L1132.34,1348.8 L1134.47,1349.8 L1136.59,1350.8 L1138.72,1351.8 L1140.85,1352.8 L1142.99,1353.7 L1145.12,1354.7 L1147.26,1355.6 L1149.39,1356.6 L1151.53,1357.5 L1153.68,1358.4 L1155.82,1359.4 L1157.96,1360.3 L1160.11,1361.2 L1162.26,1362.1 L1164.41,1363.0 L1166.57,1363.8 L1168.73,1364.7 L1170.88,1365.6 L1173.04,1366.4 L1175.21,1367.3 L1177.37,1368.1 L1179.54,1368.9 L1181.71,1369.7 L1183.88,1370.5 L1186.05,1371.3 L1188.23,1372.1 L1190.41,1372.9 L1192.58,1373.7 L1194.76,1374.5 L1196.95,1375.2 L1199.13,1376.0 L1201.32,1376.7 L1203.50,1377.5 L1205.69,1378.2 L1207.88,1378.9 L1210.07,1379.7 L1212.27,1380.4 L1214.46,1381.1 L1216.66,1381.8 L1218.85,1382.5 L1221.05,1383.1 L1223.25,1383.8 L1225.45,1384.5 L1227.65,1385.2 L1229.85,1385.8 L1232.06,1386.5 L1234.26,1387.1 L1236.47,1387.8 L1238.68,1388.4 L1240.88,1389.0 L1243.09,1389.6 L1245.30,1390.3 L1247.51,1390.9 L1249.72,1391.5 L1251.93,1392.1 L1254.15,1392.7 L1256.36,1393.3 L1258.57,1393.9 L1260.79,1394.4 L1263.00,1395.0 L1265.21,1395.6 L1267.43,1396.2 L1269.64,1396.8 L1271.86,1397.3 L1274.07,1397.9 L1276.29,1398.5 L1278.50,1399.1 L1280.71,1399.6 L1282.93,1400.2 L1285.14,1400.8 L1287.35,1401.4 L1289.57,1402.0 L1291.78,1402.5 L1293.99,1403.1 L1296.20,1403.7 L1298.41,1404.3 L1300.62,1404.9 L1302.83,1405.5 L1305.04,1406.1 L1307.24,1406.7 L1309.45,1407.3 L1311.65,1408.0 L1313.86,1408.6 L1316.06,1409.2 L1318.26,1409.9 L1320.46,1410.5 L1322.66,1411.2 L1324.85,1411.8 L1327.05,1412.5 L1329.24,1413.2 L1331.43,1413.9 L1333.62,1414.6 L1335.81,1415.3 L1338.00,1416.0 L1340.18,1416.7 L1342.37,1417.5 L1344.55,1418.2 L1346.73,1419.0 L1348.90,1419.8 L1351.08,1420.6 L1353.25,1421.4 L1355.42,1422.2 L1357.58,1423.0 L1359.75,1423.9 L1361.91,1424.7 L1364.07,1425.6 L1366.23,1426.5 L1368.38,1427.4 L1370.54,1428.3 L1372.69,1429.2 L1374.83,1430.1 L1376.98,1431.1 L1379.12,1432.0 L1381.27,1433.0 L1383.41,1433.9 L1385.54,1434.9 L1387.68,1435.9 L1389.81,1436.9 L1391.94,1437.9 L1394.07,1438.9 L1396.20,1439.9 L1398.32,1440.9 L1400.44,1441.9 L1402.56,1443.0 L1404.68,1444.0 L1406.80,1445.1 L1408.91,1446.1 L1411.03,1447.2 L1413.14,1448.2 L1415.24,1449.3 L1417.35,1450.4 L1419.45,1451.5 L1421.55,1452.5 L1423.65,1453.6 L1425.75,1454.7 L1427.85,1455.8 L1429.94,1456.9 L1432.03,1458.0 L1434.11,1459.2 L1436.19,1460.3 L1438.27,1461.4 L1440.34,1462.6 L1442.41,1463.8 L1444.47,1464.9 L1446.53,1466.1 L1448.59,1467.4 L1450.64,1468.6 L1452.68,1469.8 L1454.71,1471.1 L1456.74,1472.4 L1458.77,1473.7 L1460.79,1475.0 L1462.80,1476.4 L1464.80,1477.8 L1466.79,1479.2 L1468.78,1480.6 L1470.76,1482.0 L1472.73,1483.5 L1474.70,1485.0 L1476.65,1486.6 L1478.60,1488.1 L1480.54,1489.7 L1482.48,1491.3 L1484.42,1492.9 L1486.35,1494.5 L1488.28,1496.1 L1490.22,1497.7 L1492.15,1499.3 L1494.08,1500.9 L1496.02,1502.5 L1497.96,1504.0 L1499.91,1505.6 L1501.87,1507.1 L1503.83,1508.6 L1505.80,1510.0 L1507.79,1511.4 L1509.78,1512.8 L1511.79,1514.2 L1513.81,1515.4 L1515.84,1516.7 L1517.89,1517.9 L1519.95,1519.0 L1522.03,1520.1 L1524.12,1521.1 L1526.23,1522.0 L1528.35,1522.9 L1530.48,1523.8 L1532.62,1524.6 L1534.78,1525.3 L1536.95,1525.9 L1539.13,1526.5 L1541.32,1527.0 L1543.52,1527.5 L1545.74,1527.9 L1547.96,1528.2 L1550.20,1528.5 L1552.44,1528.7 L1554.68,1528.9 L1556.93,1529.1 L1559.19,1529.2 L1561.45,1529.2 L1563.71,1529.3 L1565.98,1529.3 L1568.25,1529.3 L1570.51,1529.3 L1572.78,1529.2 L1575.05,1529.2 L1577.32,1529.1 L1579.59,1529.1 L1581.86,1529.0 L1584.13,1528.9 L1586.39,1528.9 L1588.66,1528.8 L1590.92,1528.8 L1593.18,1528.7 L1595.44,1528.7 L1597.70,1528.7 L1599.96,1528.7 L1602.22,1528.7 L1604.47,1528.7 L1606.73,1528.6 L1608.98,1528.7 L1611.23,1528.7 L1613.49,1528.7 L1615.74,1528.7 L1617.99,1528.7 L1620.24,1528.7 L1622.49,1528.7 L1624.75,1528.8 L1627.00,1528.8 L1629.25,1528.8 L1631.50,1528.8 L1633.75,1528.9 L1636.00,1528.9 L1638.25,1528.9 L1640.51,1528.9 L1642.76,1528.9 L1645.01,1529.0 L1647.27,1529.0 L1649.52,1529.0 L1651.78,1529.0 L1654.03,1529.0 L1656.29,1529.0 L1658.54,1529.0 L1660.80,1529.0 L1663.05,1529.0 L1665.31,1529.1 L1667.57,1529.1 L1669.82,1529.1 L1672.08,1529.1 L1674.34,1529.1 L1676.60,1529.1 L1678.85,1529.1 L1681.11,1529.1 L1683.37,1529.1 L1685.63,1529.1 L1687.88,1529.1 L1690.14,1529.1 L1692.40,1529.1 L1694.65,1529.1 L1696.91,1529.1 L1699.17,1529.1 L1701.43,1529.1 L1703.68,1529.1 L1705.94,1529.1 L1708.20,1529.2 L1710.45,1529.2 L1712.71,1529.2 L1714.96,1529.2 L1717.22,1529.2 L1719.47,1529.2 L1721.73,1529.2 L1723.98,1529.2 L1726.24,1529.2 L1728.49,1529.2 L1730.74,1529.2 L1733.00,1529.3 L1735.25,1529.3 L1737.50,1529.3 L1739.75,1529.3 L1741.34,1529.3" fill="none" stroke="#00ff00" stroke-width="5" stroke-linejoin="round" stroke-linecap="butt"/>
<path d="M1554.89,1526.2 L1742.48,1525.6 V1532.9 L1554.89,1531.3 Z" fill="#00ff00"/>
</g>
<path d="M343,89 H2320 V91.5 H343 Z M2312.4,95.8 H2315.2 V1548 H2312.4 Z" fill="#8f979c"/>
<path d="M343,90.9 H2319.9 V1553 H343 Z M350,95.8 V1548 H2315.1 V95.8 Z" fill="#000" fill-rule="evenodd"/>
<text transform="translate(565.2,1626.8) scale(1,1.04)" font-size="58" text-anchor="middle">100</text>
<text transform="translate(857.0,1626.8) scale(1,1.04)" font-size="58" text-anchor="middle">200</text>
<text transform="translate(1148.9,1626.8) scale(1,1.04)" font-size="58" text-anchor="middle">300</text>
<text transform="translate(1440.7,1626.8) scale(1,1.04)" font-size="58" text-anchor="middle">400</text>
<text transform="translate(1732.5,1626.8) scale(1,1.04)" font-size="58" text-anchor="middle">500</text>
<text transform="translate(2024.3,1626.8) scale(1,1.04)" font-size="58" text-anchor="middle">600</text>
<text transform="translate(2316.2,1626.8) scale(1,1.04)" font-size="58" text-anchor="middle">700</text>
<text transform="translate(314.5,1567.0) scale(1,1.04)" font-size="58" text-anchor="end">0</text>
<text transform="translate(314.5,1302.0) scale(1,1.04)" font-size="58" text-anchor="end">20</text>
<text transform="translate(314.5,1037.0) scale(1,1.04)" font-size="58" text-anchor="end">40</text>
<text transform="translate(314.5,772.0) scale(1,1.04)" font-size="58" text-anchor="end">60</text>
<text transform="translate(314.5,507.0) scale(1,1.04)" font-size="58" text-anchor="end">80</text>
<text transform="translate(314.5,242.0) scale(1,1.04)" font-size="58" text-anchor="end">100</text>
<text transform="translate(1331.0,1738.0) scale(1,1.04)" font-size="72.4" text-anchor="middle">Temperature (°C)</text>
<text transform="translate(138.0,749.0) rotate(-90) scale(1,1.04)" font-size="71.8" text-anchor="middle">Weight (%)</text>
<path d="M1866.4,170.1 H2006.2" stroke="#00ff00" stroke-width="5" fill="none"/>
<text transform="translate(2019.2,189.6) scale(1,1.04)" font-size="59" text-anchor="start">P</text>
<path d="M1866.4,243.2 H2006.2" stroke="#0000ff" stroke-width="5" fill="none"/>
<text transform="translate(2019.2,264.0) scale(1,1.04)" font-size="59" text-anchor="start">P-H<tspan font-size="40.7" dx="2" dy="16.3">80</tspan><tspan dy="-16.3">G</tspan><tspan font-size="40.7" dy="16.3">20</tspan></text>
<path d="M1866.4,331.8 H2006.2" stroke="#000000" stroke-width="5" fill="none"/>
<text transform="translate(2019.2,352.6) scale(1,1.04)" font-size="59" text-anchor="start">P-H<tspan font-size="40.7" dx="2" dy="16.3">70</tspan><tspan dy="-16.3">G</tspan><tspan font-size="40.7" dy="16.3">30</tspan></text>
<path d="M1866.4,420.7 H2006.2" stroke="#ff0000" stroke-width="5" fill="none"/>
<text transform="translate(2019.2,441.6) scale(1,1.04)" font-size="59" text-anchor="start">P-H<tspan font-size="40.7" dx="2" dy="16.3">50</tspan><tspan dy="-16.3">G</tspan><tspan font-size="40.7" dy="16.3">50</tspan></text>
</svg></body></html>
